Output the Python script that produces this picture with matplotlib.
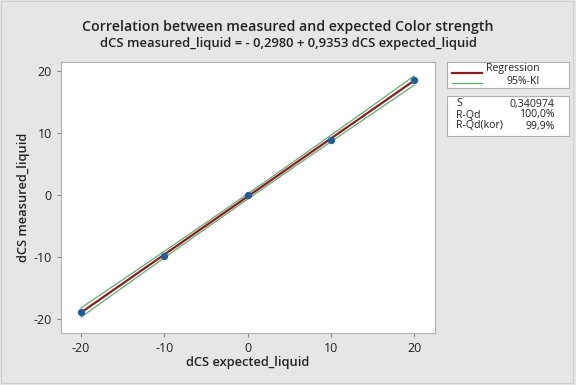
import matplotlib
matplotlib.use("Agg")
import matplotlib.pyplot as plt
import numpy as np
from matplotlib.patches import Rectangle
from matplotlib.lines import Line2D

plt.rcParams['font.family'] = ['Open Sans', 'DejaVu Sans']
plt.rcParams['axes.unicode_minus'] = False

# data
expected = np.array([-20, -10, 0, 10, 20])
measured = np.array([-18.9, -9.9, 0.0, 8.75, 18.55])
x_ticks = [-20, -10, 0, 10, 20]
y_ticks = [-20, -10, 0, 10, 20]
title1 = "Correlation between measured and expected Color strength"
title2 = "dCS measured_liquid = - 0,2980 + 0,9353 dCS expected_liquid"
stat_names = ["S", "R-Qd", "R-Qd(kor)"]
stat_values = ["0,340974", "100,0%", "99,9%"]

W, H = 576, 385
fig = plt.figure(figsize=(W / 100, H / 100), dpi=100, facecolor="#e6e6e6")
ax = fig.add_axes([61 / W, 1 - 333 / H, (435 - 61) / W, (333 - 62) / H])

# regression + 95% confidence band
slope, intercept = np.polyfit(expected, measured, 1)
n = len(expected)
resid = measured - (slope * expected + intercept)
s = np.sqrt(np.sum(resid ** 2) / (n - 2))
t = 3.182
xs = np.linspace(expected.min(), expected.max(), 100)
ys = slope * xs + intercept
half = t * s * np.sqrt(1 / n + (xs - expected.mean()) ** 2 / np.sum((expected - expected.mean()) ** 2))

red = "#8b1c24"
green = "#5fae6a"
blue = "#1f5c9e"
ax.plot(xs, ys + half, color=green, lw=0.9)
ax.plot(xs, ys - half, color=green, lw=0.9)
ax.plot(xs, ys, color=red, lw=1.6)
ax.scatter(expected, measured, color=blue, s=18, zorder=5)

ax.set_xlim(-22.4, 22.5)
ax.set_ylim(-22.3, 21.4)
ax.set_xticks(x_ticks)
ax.set_yticks(y_ticks)
ax.tick_params(labelsize=9, length=3, color="#888888", labelcolor="#222222")
for sp in ax.spines.values():
    sp.set_color("#b0b0b0")
    sp.set_linewidth(0.8)
ax.set_xlabel("dCS expected_liquid", fontsize=9.3, fontweight="semibold", color="#222222", labelpad=1)
ax.set_ylabel("dCS measured_liquid", fontsize=9.3, fontweight="semibold", color="#222222", labelpad=3)

fig.text(288 / W, 1 - 27 / H, title1, ha="center", va="center", fontsize=10.2, fontweight="semibold", color="#222222")
fig.text(288 / W, 1 - 44 / H, title2, ha="center", va="center", fontsize=9.4, fontweight="semibold", color="#222222")

# legend box
def px(x, y):
    return x / W, 1 - y / H

fig.patches.append(Rectangle(px(447, 88), 122 / W, 26 / H, transform=fig.transFigure,
                             facecolor="white", edgecolor="#b0b0b0", lw=0.8))
fig.lines.append(Line2D([452 / W, 482 / W], [1 - 73 / H, 1 - 73 / H], transform=fig.transFigure, color=red, lw=1.6))
fig.lines.append(Line2D([452 / W, 482 / W], [1 - 83 / H, 1 - 83 / H], transform=fig.transFigure, color=green, lw=0.9))
fig.text(*px(540, 69), "Regression", ha="right", va="center", fontsize=7.6, color="#222222")
fig.text(*px(540, 81), "95%-KI", ha="right", va="center", fontsize=7.6, color="#222222")

# stats box
fig.patches.append(Rectangle(px(447, 136), 122 / W, 40 / H, transform=fig.transFigure,
                             facecolor="white", edgecolor="#b0b0b0", lw=0.8))
for i, (nm, val) in enumerate(zip(stat_names, stat_values)):
    yy = 104 + i * 11
    fig.text(*px(456, yy), nm, ha="left", va="center", fontsize=7.6, color="#222222")
    fig.text(*px(555, yy), val, ha="right", va="center", fontsize=7.6, color="#222222")

# outer frame
fig.patches.append(Rectangle((0.002, 0.004), 0.993, 0.993, transform=fig.transFigure,
                             facecolor="none", edgecolor="#cfcfcf", lw=0.8))

fig.savefig("out.png", dpi=100, facecolor=fig.get_facecolor())
